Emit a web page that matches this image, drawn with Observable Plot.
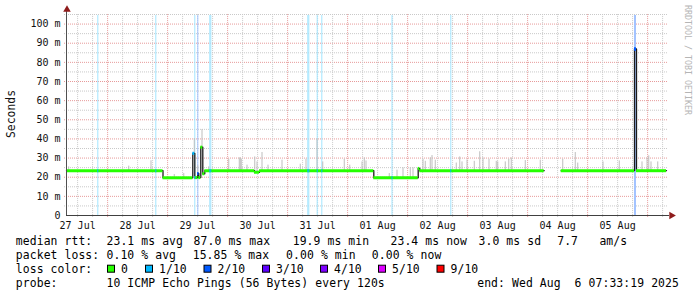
<!DOCTYPE html>
<html>
<head>
<meta charset="utf-8">
<script src="https://cdn.jsdelivr.net/npm/d3@7"></script>
<script src="https://cdn.jsdelivr.net/npm/@observablehq/plot@0.6"></script>
<style>
html,body{margin:0;padding:0;background:#fff;}
#chart{width:697px;height:297px;}
</style>
</head>
<body>
<div id="chart"></div>
<script>
// ---- data (times are hours after the window start) ----
const windowStart = "2025-07-27T07:33:19Z";
const windowHours = 240;

// median rtt step segments
const medianStartH = [0, 38.6, 50.52, 51.32, 52.52, 52.92, 53.72, 54.52, 55.32, 75.2, 77.2, 122.92, 140.68, 141.32, 197.88, 227.2, 228];
const medianEndH   = [38.6, 50.52, 51.32, 52.52, 52.92, 53.72, 54.52, 55.32, 75.2, 77.2, 122.92, 140.68, 141.32, 191.08, 227.2, 228, 240];
const medianMs     = [23.4, 19.7, 32.5, 19.8, 22.0, 19.8, 35.7, 21.8, 23.4, 22.6, 23.4, 19.7, 24.6, 23.4, 23.4, 87.0, 23.4];
const medianLoss   = [0, 0, 1, 0, 2, 0, 0, 0, 0, 0, 0, 0, 0, 0, 0, 2, 0];

// packet loss events (level = lost pings out of 10)
const lossBarH     = [12.52, 35.72, 51.32, 52.52, 57.32, 57.72, 96.52, 96.92, 100.28, 102.12, 130.2, 153.72, 227.2, 227.6];
const lossBarLevel = [1, 1, 1, 2, 1, 1, 1, 1, 1, 1, 1, 1, 2, 2];

// smoke (ping spread) bars
const smokeH = [0.67, 24.7, 33.6, 42.9, 46.7, 50.9, 52.3, 54.0, 56.7, 64.7, 68.9, 69.3, 69.7, 72, 75.1, 76, 78, 80.4, 86, 93.3, 95.6, 100, 102.3, 110.9, 113.1, 118, 118.9, 119.6,
  128.9, 132, 134.4, 137.3, 138.4, 142.4, 143.3, 145.3, 146, 147.3, 155.7, 157.1, 158, 160, 162.9, 165.1, 166.4, 168.8, 171.7, 172.3, 175.3, 176.7, 177.7, 183.3, 189.3,
  198.3, 203.3, 204.3, 214.4, 220.9, 230, 232, 232.7, 233.6, 236.3];
const smokeLowMs = [23, 23, 23, 19.5, 19.5, 32, 19.5, 35, 23, 23, 23, 23, 23, 23, 23, 23, 23, 23, 23, 23, 23, 23, 23, 23, 23, 23, 23, 23,
  19.5, 19.5, 19.5, 19.5, 19.5, 23, 23, 23, 23, 23, 23, 23, 23, 23, 23, 23, 23, 23, 23, 23, 23, 23, 23, 23, 23,
  23, 23, 23, 23, 23, 23, 23, 23, 23, 23];
const smokeHighMs = [25.4, 25.8, 28.6, 21.4, 21.9, 40.2, 26, 44.9, 25.4, 29.4, 30.1, 30.1, 29.5, 26.3, 30.6, 28, 32.9, 26.3, 28.9, 26.8, 29.4, 40, 28, 29.4, 26.3, 28, 30.1, 28.5,
  21.9, 23.7, 24.9, 24.9, 24.9, 29.4, 28.3, 30.1, 31.3, 28.9, 27.4, 30.6, 28, 29, 28.3, 33.3, 30.1, 29.4, 28.3, 28, 28, 29.4, 30.1, 28.7, 28.9,
  29.4, 32.9, 27.4, 28, 28.5, 28, 30.1, 31.2, 28, 28];

// ticks
const xTickTimes = ["2025-07-27T12:00:00Z","2025-07-28T12:00:00Z","2025-07-29T12:00:00Z","2025-07-30T12:00:00Z","2025-07-31T12:00:00Z",
  "2025-08-01T12:00:00Z","2025-08-02T12:00:00Z","2025-08-03T12:00:00Z","2025-08-04T12:00:00Z","2025-08-05T12:00:00Z"];
const xTickLabels = ["27 Jul","28 Jul","29 Jul","30 Jul","31 Jul","01 Aug","02 Aug","03 Aug","04 Aug","05 Aug"];
const yTickValues = [0, 10, 20, 30, 40, 50, 60, 70, 80, 90, 100];
const yTickLabels = ["0","10 m","20 m","30 m","40 m","50 m","60 m","70 m","80 m","90 m","100 m"];

// legend
const lossLabels = ["0","1/10","2/10","3/10","4/10","5/10","9/10"];
const lossColors = ["#26ff00","#00b8ff","#0059ff","#5e00ff","#7e00ff","#dd00ff","#ff0000"];
const statsRtt  = ["median rtt:","23.1 ms avg","87.0 ms max","19.9 ms min","23.4 ms now","3.0 ms sd","7.7","am/s"];
const statsLoss = ["packet loss:","0.10 % avg","15.85 % max","0.00 % min","0.00 % now"];
const probeInfo = ["probe:","10 ICMP Echo Pings (56 Bytes) every 120s","end: Wed Aug  6 07:33:19 2025"];
const yLabel = "Seconds";
const watermark = "RRDTOOL / TOBI OETIKER";

// ---- build ----
const t0 = Date.parse(windowStart);
const T = h => new Date(t0 + h * 3600e3);
const PX_H = 0.4; // one pixel column of the graph in hours

const segs = medianStartH.map((s, i) => ({s, e: medianEndH[i], v: medianMs[i], loss: medianLoss[i]}));
let g = 0;
segs.forEach((d, i) => { if (i > 0 && d.s !== segs[i - 1].e) g++; d.g = g; });
const stepPts = segs.flatMap(d => [{x: T(d.s), y: d.v, g: d.g}, {x: T(d.e), y: d.v, g: d.g}]);

const lossBars = lossBarH.map((h, i) => ({h, lvl: lossBarLevel[i]}));
const lossMedian = lossBars.map(b => {
  const sg = segs.find(d => b.h >= d.s && b.h < d.e);
  return sg ? {h: b.h, v: sg.v, lvl: b.lvl} : null;
}).filter(Boolean);
const light = lvl => d3.interpolateRgb("#ffffff", lossColors[lvl])(0.36);

const smoke = smokeH.map((h, i) => ({h, lo: smokeLowMs[i], hi: smokeHighMs[i]}));

const xStart = T(0), xEnd = T(windowHours);
const minorX = d3.utcHour.every(6).range(xStart, xEnd).filter(d => d.getUTCHours() !== 0);
const majorX = d3.utcDay.range(xStart, xEnd);
const minorY = d3.range(5, 106, 10);
const majorY = d3.range(10, 101, 10);
const xTicks = xTickTimes.map(s => new Date(s));

const gridMinor = "#c9c9c9", gridMajor = "#e79a9a";

const plot = Plot.plot({
  width: 697, height: 297,
  marginLeft: 66, marginRight: 31, marginTop: 14, marginBottom: 82,
  x: {type: "utc", domain: [xStart, xEnd]},
  y: {domain: [0, 105]},
  color: {type: "identity"},
  style: {fontFamily: "'DejaVu Sans Mono', monospace", fontSize: "10px", background: "#fff", color: "#111", overflow: "visible"},
  marks: [
    Plot.ruleY(minorY, {y: d => d, x1: () => T(-0.8), x2: () => T(windowHours + 0.8), stroke: gridMinor, strokeDasharray: "1,1"}),
    Plot.ruleY(majorY, {y: d => d, x1: () => T(-0.8), x2: () => T(windowHours + 0.8), stroke: gridMajor, strokeDasharray: "1,1"}),
    Plot.ruleX(minorX, {x: d => d, y1: -1, y2: 105, stroke: gridMinor, strokeDasharray: "1,1"}),
    Plot.ruleX(majorX, {x: d => d, y1: -1, y2: 105, stroke: gridMajor, strokeDasharray: "1,1"}),
    Plot.rect(lossBars, {x1: d => T(d.h), x2: d => T(d.h + PX_H), y1: 0, y2: 104.5, fill: d => light(d.lvl)}),
    Plot.ruleX(smoke, {x: d => T(d.h + PX_H / 2), y1: "lo", y2: "hi", stroke: "#bdbdbd", strokeWidth: 1}),
    Plot.line(stepPts, {x: "x", y: "y", z: "g", stroke: "#1c1c1c", strokeWidth: 1.3, curve: "linear"}),
    Plot.ruleY(segs, {y: "v", x1: d => T(d.s), x2: d => T(d.e), stroke: d => lossColors[d.loss], strokeWidth: 3}),
    Plot.ruleY(lossMedian, {y: "v", x1: d => T(d.h), x2: d => T(d.h + PX_H), stroke: d => lossColors[d.lvl], strokeWidth: 3}),
    Plot.ruleY([0], {y: 0, x1: () => T(0), x2: () => T(windowHours + 1.2), stroke: "#404040"}),
    Plot.ruleX([0], {x: () => T(0), y1: 0, y2: 106.5, stroke: "#505050"}),
    Plot.dot([0], {x: () => T(0.2), y: () => 107.6, symbol: "triangle", r: 2.8, fill: "#8e1b1b", stroke: null}),
    Plot.dot([0], {x: () => T(windowHours + 2.0), y: 0, symbol: "triangle", r: 2.8, fill: "#8e1b1b", stroke: null, rotate: 90}),
    Plot.axisY(yTickValues, {tickSize: 0, tickPadding: 6, tickFormat: d => yTickLabels[yTickValues.indexOf(d)], label: null, fontSize: 10, fill: "#111"}),
    Plot.axisX(xTicks, {tickSize: 0, tickPadding: 6, tickFormat: d => xTickLabels[xTicks.findIndex(t => +t === +d)], label: null, fontSize: 10, fill: "#111"})
  ]
});

document.getElementById("chart").appendChild(plot);

// ---- legend / labels ----
const svg = d3.select(plot);
const lf = "'DejaVu Sans Mono', monospace";
const L = svg.append("g").attr("font-family", lf).attr("font-size", "11.4px").attr("fill", "#000")
  .attr("text-anchor", "start").style("white-space", "pre").attr("letter-spacing", "0.1px");

function row(items, xs, y) {
  items.forEach((s, i) => L.append("text").attr("x", xs[i]).attr("y", y).attr("text-anchor", "start").text(s));
}
row(statsRtt, [15.8, 106.5, 193.6, 292.7, 390.5, 478.5, 557.2, 599.4], 244.5);
row(statsLoss, [15.8, 106.5, 192.7, 286.1, 371.8], 258.7);
row(["loss color:"], [15.8], 272.7);
const boxX = [107, 145, 203.5, 262, 320, 378, 436.5];
lossLabels.forEach((lab, i) => {
  L.append("rect").attr("x", boxX[i] + 0.5).attr("y", 265.2).attr("width", 7).attr("height", 7)
    .attr("fill", lossColors[i]).attr("stroke", "#000").attr("stroke-width", 1);
  L.append("text").attr("x", boxX[i] + 14).attr("y", 272.7).attr("text-anchor", "start").text(lab);
});
row(probeInfo, [15.8, 106.5, 477.2], 286.7);

svg.append("text").attr("transform", "translate(15,114) rotate(-90)").attr("text-anchor", "middle")
  .attr("font-family", lf).attr("font-size", "11.4px").attr("fill", "#111").text(yLabel);
svg.append("text").attr("transform", "translate(684.5,5) rotate(90)").attr("text-anchor", "start")
  .attr("font-family", lf).attr("font-size", "8.3px").attr("fill", "#b5b5b5").text(watermark);
</script>
</body>
</html>
